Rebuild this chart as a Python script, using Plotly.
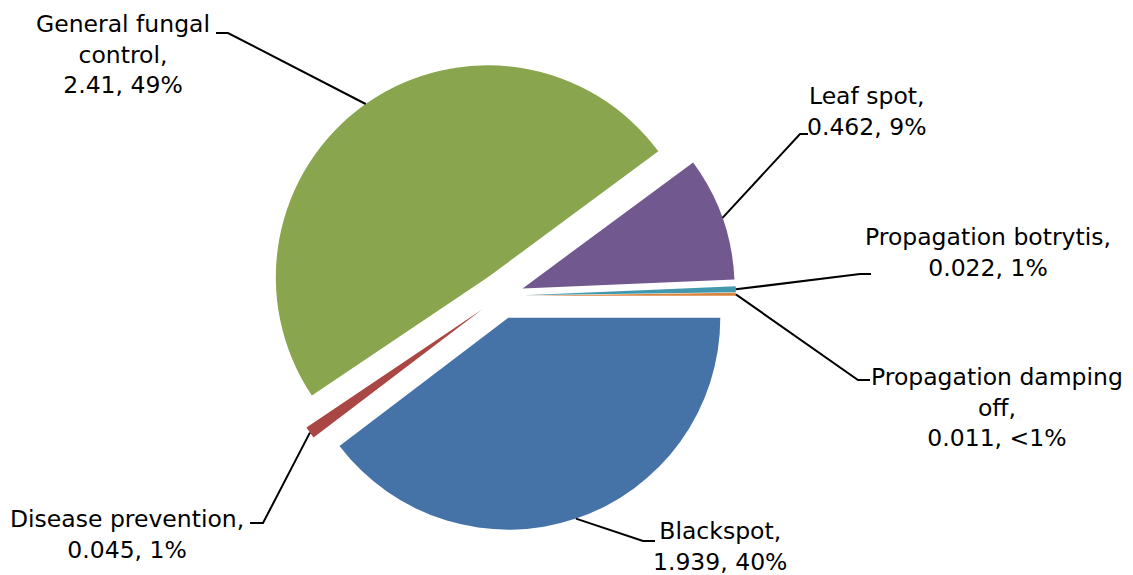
import math
import plotly.graph_objects as go

# ---------------- data ----------------
categories = ["Blackspot", "Disease prevention", "General fungal control",
              "Leaf spot", "Propagation botrytis", "Propagation damping off"]
values = [1.939, 0.045, 2.41, 0.462, 0.022, 0.011]
value_labels = ["1.939", "0.045", "2.41", "0.462", "0.022", "0.011"]
percent_labels = ["40%", "1%", "49%", "9%", "1%", "<1%"]
colors = ["#4572A7", "#AA4643", "#89A54E", "#71588F", "#4198AF", "#DB843D"]
# how each category name is wrapped in its label
name_wrapped = ["Blackspot,", "Disease prevention,", "General fungal<br>control,",
                "Leaf spot,", "Propagation botrytis,", "Propagation damping<br>off,"]

# ---------------- layout (pixels) ----------------
W, H = 1133, 575
CX, CY, R = 501, 296, 212
PULL = 0.108
FONT = "DejaVu Sans, sans-serif"
FSIZE = 23.5

# label block centres (x, y) and leader elbow / end points
label_pos = [(720, 546), (127, 534), (123, 54), (867, 112), (988, 252), (997, 407)]
elbows = [(643, 541), (263, 523), (228, 33), (800, 134), (860, 274), (858, 380)]
ends = [(655, 541), (250, 523), (216, 33), (808, 134), (871, 274), (870, 380)]


def px(x):
    return x / W


def py(y):
    return 1 - y / H


half = R * (1 + PULL)
domain = dict(x=[px(CX - half), px(CX + half)], y=[py(CY + half), py(CY - half)])

fig = go.Figure(go.Pie(
    labels=categories, values=values, sort=False, direction="clockwise",
    rotation=90, pull=[PULL] * len(values),
    marker=dict(colors=colors, line=dict(width=0)),
    textinfo="none", showlegend=False, domain=domain,
))

total = sum(values)
cum = 0.0
annotations, shapes = [], []
for i, v in enumerate(values):
    mid = (cum + v / 2) / total * 2 * math.pi  # clockwise from 3 o'clock
    cum += v
    sx = CX + R * (1 + PULL) * math.cos(mid)
    sy = CY + R * (1 + PULL) * math.sin(mid)
    ex, ey = elbows[i]
    tx, ty = ends[i]
    shapes.append(dict(
        type="path", xref="paper", yref="paper",
        path=f"M {px(sx)},{py(sy)} L {px(ex)},{py(ey)} L {px(tx)},{py(ty)}",
        line=dict(color="black", width=2),
    ))
    lx, ly = label_pos[i]
    annotations.append(dict(
        xref="paper", yref="paper", x=px(lx), y=py(ly),
        xanchor="center", yanchor="middle", showarrow=False, align="center",
        text=f"{name_wrapped[i]}<br>{value_labels[i]}, {percent_labels[i]}",
        font=dict(family=FONT, size=FSIZE, color="black"),
    ))

fig.update_layout(
    width=W, height=H, margin=dict(l=0, r=0, t=0, b=0),
    paper_bgcolor="white", plot_bgcolor="white",
    annotations=annotations, shapes=shapes,
)

fig.write_html("out.html", config={"displayModeBar": False},
               post_script="document.body.style.margin='0';")
